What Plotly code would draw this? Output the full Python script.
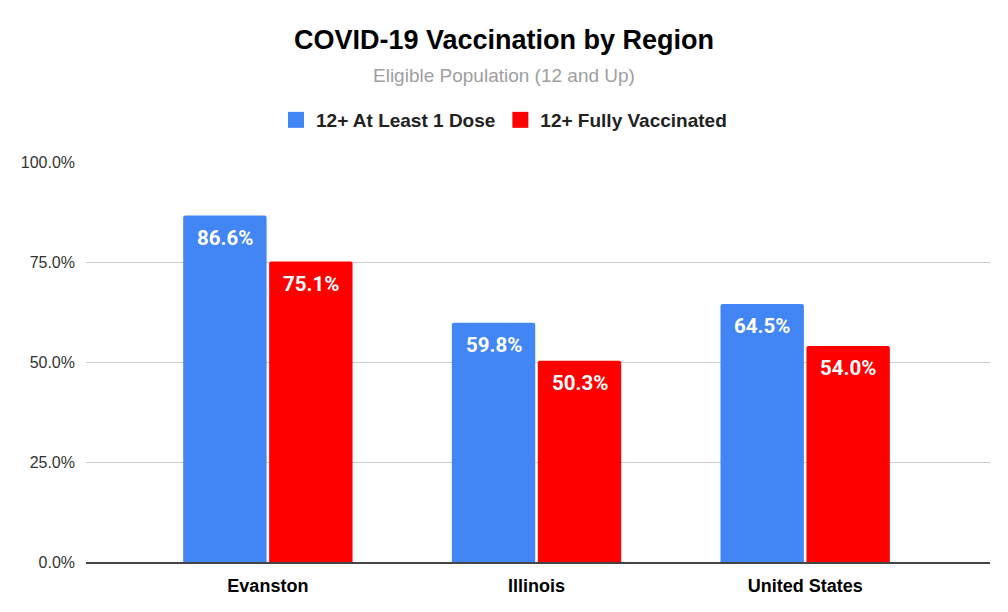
import plotly.graph_objects as go

regions = ["Evanston", "Illinois", "United States"]
at_least_one = [86.6, 59.8, 64.5]
fully_vacc = [75.1, 50.3, 54.0]
series_names = ["12+ At Least 1 Dose", "12+ Fully Vaccinated"]
y_ticks = [0, 25, 50, 75, 100]
y_tick_labels = ["0.0%", "25.0%", "50.0%", "75.0%", "100.0%"]

W, H = 1008, 612
ML, MR, MT, MB = 86, 18, 162, 50
PW, PH = W - ML - MR, H - MT - MB
BARGAP = 0.36
series = [(series_names[0], at_least_one, "#4285f4"),
          (series_names[1], fully_vacc, "#ff0000")]

fig = go.Figure()
annotations = []
n = len(series)
slot = (1 - BARGAP) / n
for k, (name, vals, color) in enumerate(series):
    fig.add_trace(go.Bar(
        x=list(range(len(regions))), y=vals, name=name, showlegend=False,
        marker=dict(color=color, line=dict(width=0)),
    ))
    off = -(1 - BARGAP) / 2 + slot * (k + 0.5)
    for i, v in enumerate(vals):
        annotations.append(dict(
            x=i + off, y=v, xref="x", yref="y", text=f"<b>{v:.1f}%</b>",
            showarrow=False, yanchor="middle", xanchor="center", yshift=-22,
            font=dict(family="Roboto", size=20.5, color="white")))
# legend-only entries with square swatches
for name, vals, color in series:
    fig.add_trace(go.Scatter(
        x=[None], y=[None], name=name, mode="markers",
        marker=dict(symbol="square", size=16, color=color), hoverinfo="skip"))

annotations.append(dict(text="Eligible Population (12 and Up)",
                        x=(504 - ML) / PW, xref="paper", xanchor="center",
                        y=(H - MB - 76) / PH, yref="paper", yanchor="middle",
                        showarrow=False,
                        font=dict(family="Liberation Sans, Arial", size=19, color="#9e9e9e")))

fig.update_layout(
    width=W, height=H,
    margin=dict(l=ML, r=MR, t=MT, b=MB),
    paper_bgcolor="white", plot_bgcolor="white",
    barmode="group", bargap=BARGAP, bargroupgap=0.03, barcornerradius=2,
    title=dict(text="<b>COVID-19 Vaccination by Region</b>", x=0.5, xanchor="center",
               xref="container", y=1 - 40 / H, yref="container", yanchor="middle",
               font=dict(family="Liberation Sans, Arial", size=27, color="#000000")),
    legend=dict(orientation="h", x=0.5, xanchor="center", xref="container",
                y=1 - 120 / H, yref="container", yanchor="middle",
                font=dict(family="Liberation Sans, Arial", size=19, color="#222222", weight="bold"),
                itemwidth=30, itemsizing="trace", tracegroupgap=0),
    annotations=annotations,
    xaxis=dict(tickmode="array", tickvals=list(range(len(regions))), ticktext=regions,
               range=[-0.677, 2.688], showgrid=False, zeroline=False,
               showline=True, linecolor="#444444", linewidth=2,
               tickfont=dict(family="Liberation Sans, Arial", size=18, color="#000000", weight="bold"),
               ticks="", ticklabelstandoff=6),
    yaxis=dict(range=[0, 100], tickvals=y_ticks, ticktext=y_tick_labels,
               showgrid=True, gridcolor="#cccccc", gridwidth=1, zeroline=False,
               tickfont=dict(family="Liberation Sans, Arial", size=16, color="#333333"),
               ticks="", ticklabelstandoff=10),
)
fig.write_html("out.html", config={"displayModeBar": False},
               post_script="document.body.style.margin='0px';")
